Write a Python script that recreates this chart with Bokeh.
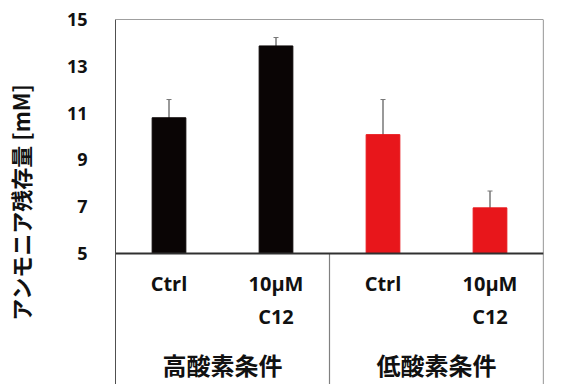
from bokeh.plotting import figure
from bokeh.models import Range1d, FixedTicker, ColumnDataSource, Whisker
from bokeh.core.properties import value
from bokeh.embed import file_html
from bokeh.resources import INLINE

# ---- data ----
groups = ["高酸素条件", "低酸素条件"]
conditions = ["Ctrl", "10μM\nC12", "Ctrl", "10μM\nC12"]
values = [10.8, 13.87, 10.08, 6.95]
errors = [0.78, 0.36, 1.5, 0.72]
bar_colors = ["#0a0505", "#0a0505", "#e8161b", "#e8161b"]
y_ticks = [5, 7, 9, 11, 13, 15]
y_label = "アンモニア残存量 [mM]"

# ---- geometry ----
W, H = 553, 384
frame_top, frame_left, frame_right = 19, 115, 10
frame_h = H - frame_top
plot_px = 234  # pixels between 5 and 15
units_per_px = (y_ticks[-1] - y_ticks[0]) / plot_px
y_min = y_ticks[0] - (frame_h - plot_px) * units_per_px
y_max = y_ticks[-1]

n = len(values)
xs = [i + 0.5 for i in range(n)]

p = figure(width=W, height=H, output_backend="svg", toolbar_location=None,
           x_range=Range1d(0, n), y_range=Range1d(y_min, y_max),
           min_border_left=frame_left, min_border_right=frame_right,
           min_border_top=frame_top, min_border_bottom=0)
p.outline_line_color = None
p.grid.visible = False
p.xaxis.visible = False
p.background_fill_color = "white"
p.border_fill_color = "white"

yax = p.yaxis[0]
yax.ticker = FixedTicker(ticks=y_ticks)
yax.major_tick_line_color = None
yax.minor_tick_line_color = None
yax.axis_line_color = "#505050"
yax.axis_line_width = 1
yax.major_label_text_font = "Open Sans"
yax.major_label_text_font_style = "bold"
yax.major_label_text_font_size = "18px"
yax.major_label_text_color = "#111111"
yax.major_label_standoff = 22
yax.axis_label = y_label
yax.axis_label_text_font = "Noto Sans CJK JP"
yax.axis_label_text_font_style = "bold"
yax.axis_label_text_font_size = "22px"
yax.axis_label_text_color = "#111111"
yax.axis_label_standoff = 28

# frame lines
p.segment(x0=[0], y0=[y_max], x1=[n], y1=[y_max], line_color="#404040", line_width=1.2)
p.segment(x0=[n], y0=[y_min], x1=[n], y1=[y_max], line_color="#505050", line_width=1.2)
p.segment(x0=[n / 2], y0=[y_min], x1=[n / 2], y1=[y_ticks[0]], line_color="#808080", line_width=1.2)

# bars
src = ColumnDataSource(dict(x=xs, top=values, color=bar_colors,
                            upper=[v + e for v, e in zip(values, errors)],
                            lower=[v - e for v, e in zip(values, errors)]))
p.vbar(x="x", top="top", bottom=y_ticks[0], width=0.315, fill_color="color",
       line_color="color", source=src)

# baseline
p.segment(x0=[0], y0=[y_ticks[0]], x1=[n], y1=[y_ticks[0]], line_color="#303030", line_width=1.8)

# error bars
wh = Whisker(base="x", upper="upper", lower="lower", source=src,
             line_color="#555555", line_width=1.2)
wh.upper_head.size = 5
wh.lower_head.size = 5
wh.upper_head.line_color = "#777777"
wh.lower_head.line_color = "#777777"
p.add_layout(wh)

# category labels (two lines each)
line1 = [c.split("\n")[0] for c in conditions]
line2 = [c.split("\n")[1] if "\n" in c else "" for c in conditions]
y1 = y_ticks[0] - 30 * units_per_px
y2 = y_ticks[0] - 63 * units_per_px
for txt, yy in ((line1, y1), (line2, y2)):
    p.text(x=xs, y=[yy] * n, text=txt, text_align="center", text_baseline="middle",
           text_font=value("Open Sans"), text_font_style="bold", text_font_size="20px",
           text_color="#111111")

group_y = y_ticks[0] - 111 * units_per_px
gx = [n / 4, 3 * n / 4]
p.text(x=gx, y=[group_y] * 2, text=groups, text_align="center", text_baseline="middle",
       text_font=value("Noto Sans CJK JP"), text_font_style="bold", text_font_size="24px",
       text_color="#111111")

open("out.html", "w").write(file_html(p, INLINE))
